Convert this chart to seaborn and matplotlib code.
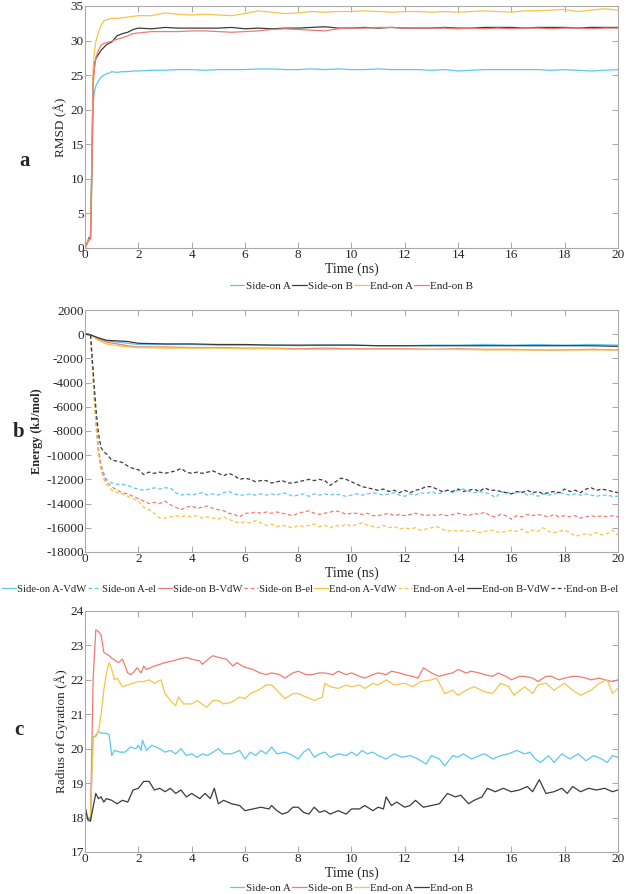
import matplotlib
matplotlib.use("Agg")
import matplotlib.pyplot as plt
import seaborn as sns

# ---- panel a: RMSD (time ns, RMSD A) ----
rmsd_side_a = [(0, 0), (0.1, 1.0), (0.15, 1.3), (0.2, 1.3), (0.25, 9), (0.3, 21), (0.35, 22.6), (0.4, 23.4),
               (0.5, 24.2), (0.6, 24.7), (0.7, 25.0), (0.8, 25.2), (0.9, 25.3), (1.0, 25.5), (1.2, 25.4),
               (1.4, 25.5), (1.6, 25.5), (1.8, 25.6), (2.0, 25.6), (2.5, 25.7), (3.0, 25.7), (3.5, 25.8),
               (4.0, 25.8), (4.5, 25.7), (5.0, 25.8), (5.5, 25.8), (6.0, 25.8), (6.5, 25.9), (7.0, 25.9),
               (7.5, 25.8), (8.0, 25.8), (8.5, 25.9), (9.0, 25.8), (9.5, 25.9), (10.0, 25.8), (10.5, 25.8),
               (11.0, 25.9), (11.5, 25.8), (12.0, 25.8), (12.5, 25.8), (13.0, 25.7), (13.5, 25.8), (14.0, 25.6),
               (14.5, 25.7), (15.0, 25.8), (15.5, 25.8), (16.0, 25.8), (16.5, 25.8), (17.0, 25.8), (17.5, 25.7),
               (18.0, 25.8), (18.5, 25.7), (19.0, 25.6), (19.5, 25.7), (20.0, 25.8)]
rmsd_side_b = [(0, 0), (0.1, 1.0), (0.15, 1.5), (0.2, 1.5), (0.25, 12), (0.3, 24.5), (0.35, 26.5), (0.4, 27.4),
               (0.5, 28.0), (0.6, 28.6), (0.7, 29.0), (0.8, 29.4), (0.9, 29.6), (1.0, 29.8), (1.2, 30.7),
               (1.4, 31.0), (1.6, 31.2), (1.8, 31.6), (2.0, 31.8), (2.5, 31.7), (3.0, 31.9), (3.5, 31.8),
               (4.0, 31.8), (4.5, 31.8), (5.0, 31.8), (5.5, 31.9), (6.0, 31.7), (6.5, 31.8), (7.0, 31.7),
               (7.5, 31.8), (8.0, 31.8), (8.5, 31.9), (9.0, 32.0), (9.5, 31.8), (10.0, 31.8), (10.5, 31.9),
               (11.0, 31.8), (11.5, 31.9), (12.0, 31.8), (12.5, 31.8), (13.0, 31.8), (13.5, 31.9), (14.0, 31.8),
               (14.5, 31.8), (15.0, 31.9), (15.5, 31.9), (16.0, 31.9), (16.5, 31.8), (17.0, 31.9), (17.5, 31.9),
               (18.0, 31.9), (18.5, 31.8), (19.0, 31.9), (19.5, 31.9), (20.0, 31.9)]
rmsd_end_a = [(0, 0), (0.1, 1.0), (0.15, 1.3), (0.2, 1.3), (0.25, 12), (0.3, 26), (0.35, 28.5), (0.4, 29.8),
              (0.5, 31.2), (0.6, 32.2), (0.7, 32.8), (0.8, 33.0), (0.9, 33.1), (1.0, 33.2), (1.2, 33.2),
              (1.4, 33.3), (1.6, 33.4), (1.8, 33.5), (2.0, 33.6), (2.5, 33.6), (3.0, 34.0), (3.5, 33.8),
              (4.0, 33.7), (4.5, 33.8), (5.0, 33.7), (5.5, 33.6), (6.0, 33.9), (6.5, 34.3), (7.0, 34.1),
              (7.5, 33.9), (8.0, 34.0), (8.5, 34.2), (9.0, 34.1), (9.5, 34.2), (10.0, 34.2), (10.5, 34.3),
              (11.0, 34.2), (11.5, 34.1), (12.0, 34.2), (12.5, 34.2), (13.0, 34.1), (13.5, 34.2), (14.0, 34.1),
              (14.5, 34.2), (15.0, 34.3), (15.5, 34.2), (16.0, 34.1), (16.5, 34.3), (17.0, 34.3), (17.5, 34.4),
              (18.0, 34.5), (18.5, 34.2), (19.0, 34.4), (19.5, 34.6), (20.0, 34.4)]
rmsd_end_b = [(0, 0), (0.1, 0.8), (0.15, 1.2), (0.2, 1.2), (0.25, 10), (0.3, 23.5), (0.35, 26.0), (0.4, 27.5),
              (0.5, 28.6), (0.6, 29.3), (0.7, 29.6), (0.8, 29.7), (0.9, 29.8), (1.0, 29.9), (1.2, 30.2),
              (1.4, 30.4), (1.6, 30.7), (1.8, 31.0), (2.0, 31.1), (2.5, 31.3), (3.0, 31.3), (3.5, 31.3),
              (4.0, 31.4), (4.5, 31.4), (5.0, 31.3), (5.5, 31.2), (6.0, 31.3), (6.5, 31.4), (7.0, 31.6),
              (7.5, 31.7), (8.0, 31.6), (8.5, 31.5), (9.0, 31.4), (9.5, 31.7), (10.0, 31.8), (10.5, 31.8),
              (11.0, 31.9), (11.5, 31.9), (12.0, 31.8), (12.5, 31.8), (13.0, 31.8), (13.5, 31.8), (14.0, 31.7),
              (14.5, 31.8), (15.0, 31.7), (15.5, 31.8), (16.0, 31.7), (16.5, 31.8), (17.0, 31.8), (17.5, 31.7),
              (18.0, 31.8), (18.5, 31.8), (19.0, 31.7), (19.5, 31.8), (20.0, 31.8)]

# ---- panel b: interaction energy (kJ/mol) ----
e_side_a_vdw = [(0, 0), (0.2, -50), (0.5, -350), (0.8, -550), (1.2, -650), (1.6, -750), (2.0, -850), (3, -850),
                (4, -850), (5, -900), (6, -900), (7, -900), (8, -950), (9, -900), (10, -900), (11, -950),
                (12, -950), (13, -900), (14, -900), (15, -850), (16, -900), (17, -850), (18, -900), (19, -850),
                (20, -900)]
e_side_b_vdw = [(0, 0), (0.2, -50), (0.5, -400), (0.8, -650), (1.2, -800), (1.6, -950), (2.0, -1050), (3, -1050),
                (4, -1100), (5, -1100), (6, -1150), (7, -1150), (8, -1200), (9, -1150), (10, -1200), (11, -1200),
                (12, -1200), (13, -1250), (14, -1200), (15, -1250), (16, -1250), (17, -1300), (18, -1300),
                (19, -1250), (20, -1300)]
e_end_a_vdw = [(0, 0), (0.2, -50), (0.5, -500), (0.8, -800), (1.2, -950), (1.6, -1050), (2.0, -1100), (3, -1150),
               (4, -1150), (5, -1150), (6, -1200), (7, -1200), (8, -1250), (9, -1250), (10, -1250), (11, -1250),
               (12, -1250), (13, -1250), (14, -1250), (15, -1300), (16, -1300), (17, -1300), (18, -1300),
               (19, -1300), (20, -1300)]
e_end_b_vdw = [(0, 0), (0.2, -50), (0.5, -300), (0.8, -500), (1.2, -550), (1.6, -600), (2.0, -750), (3, -800),
               (4, -800), (5, -850), (6, -850), (7, -900), (8, -900), (9, -900), (10, -900), (11, -950),
               (12, -950), (13, -950), (14, -950), (15, -950), (16, -950), (17, -950), (18, -950), (19, -950),
               (20, -1000)]

e_side_a_el = [(0, 0), (0.2, 0), (0.3, -3500), (0.4, -7000), (0.5, -9500), (0.6, -10800), (0.7, -11500),
               (0.8, -12000), (1.0, -12300), (1.2, -12400), (1.4, -12400), (1.6, -12500), (1.8, -12700),
               (2.0, -12800), (2.2, -12900), (2.4, -12800), (2.6, -12700), (2.8, -12800), (3.0, -12700),
               (3.2, -12700), (3.4, -13100), (3.6, -13300), (3.8, -13200), (4.0, -13300), (4.2, -13200),
               (4.4, -13100), (4.6, -13300), (4.8, -13200), (5.0, -13300), (5.2, -13100), (5.4, -13000),
               (5.6, -13200), (5.8, -13300), (6.0, -13300), (6.2, -13200), (6.4, -13300), (6.6, -13200),
               (6.8, -13300), (7.0, -13200), (7.2, -13300), (7.4, -13100), (7.6, -13200), (7.8, -13400),
               (8.0, -13300), (8.2, -13200), (8.4, -13400), (8.6, -13200), (8.8, -13300), (9.0, -13200),
               (9.2, -13300), (9.4, -13200), (9.6, -13300), (9.8, -13400), (10.0, -13300), (10.2, -13200),
               (10.4, -13300), (10.6, -13200), (10.8, -13100), (11.0, -13200), (11.2, -13300), (11.4, -13200),
               (11.6, -13100), (11.8, -13300), (12.0, -13400), (12.2, -13200), (12.4, -13300), (12.6, -13100),
               (12.8, -13200), (13.0, -13000), (13.2, -13200), (13.4, -13100), (13.6, -12900), (13.8, -13100),
               (14.0, -12900), (14.2, -12800), (14.4, -13000), (14.6, -13100), (14.8, -13000), (15.0, -13100),
               (15.2, -13200), (15.4, -13500), (15.6, -13100), (15.8, -13000), (16.0, -13200), (16.2, -13100),
               (16.4, -13000), (16.6, -13300), (16.8, -13200), (17.0, -13400), (17.2, -13200), (17.4, -13300),
               (17.6, -13200), (17.8, -13100), (18.0, -13200), (18.2, -13300), (18.4, -13200), (18.6, -13300),
               (18.8, -13200), (19.0, -13300), (19.2, -13400), (19.4, -13300), (19.6, -13300), (19.8, -13400),
               (20.0, -13400)]
e_side_b_el = [(0, 0), (0.2, 0), (0.3, -3500), (0.4, -7000), (0.5, -9600), (0.6, -11000), (0.7, -11700),
               (0.8, -12200), (1.0, -12600), (1.2, -12900), (1.4, -13100), (1.6, -13200), (1.8, -13400),
               (2.0, -13600), (2.2, -13800), (2.4, -14000), (2.6, -13900), (2.8, -14000), (3.0, -13800),
               (3.2, -14100), (3.4, -14300), (3.6, -14500), (3.8, -14300), (4.0, -14200), (4.2, -14400),
               (4.4, -14300), (4.6, -14200), (4.8, -14400), (5.0, -14500), (5.2, -14600), (5.4, -14800),
               (5.6, -14900), (5.8, -15100), (6.0, -14800), (6.2, -14800), (6.4, -14700), (6.6, -14800),
               (6.8, -14700), (7.0, -14800), (7.2, -14700), (7.4, -14800), (7.6, -14900), (7.8, -15000),
               (8.0, -14800), (8.2, -14700), (8.4, -14600), (8.6, -14800), (8.8, -14900), (9.0, -14800),
               (9.2, -14700), (9.4, -14600), (9.6, -14700), (9.8, -14900), (10.0, -14800), (10.2, -14800),
               (10.4, -14900), (10.6, -14800), (10.8, -15000), (11.0, -15000), (11.2, -14900), (11.4, -14800),
               (11.6, -15000), (11.8, -14900), (12.0, -15000), (12.2, -14900), (12.4, -14800), (12.6, -14900),
               (12.8, -15000), (13.0, -14900), (13.2, -15000), (13.4, -14900), (13.6, -15000), (13.8, -14900),
               (14.0, -14800), (14.2, -14900), (14.4, -15000), (14.6, -14800), (14.8, -14900), (15.0, -14700),
               (15.2, -15000), (15.4, -15100), (15.6, -14900), (15.8, -15000), (16.0, -15300), (16.2, -15000),
               (16.4, -15100), (16.6, -14900), (16.8, -15000), (17.0, -14900), (17.2, -15000), (17.4, -15100),
               (17.6, -14900), (17.8, -15100), (18.0, -15000), (18.2, -15100), (18.4, -15000), (18.6, -15200),
               (18.8, -15100), (19.0, -15000), (19.2, -15100), (19.4, -15000), (19.6, -15100), (19.8, -15000),
               (20.0, -15100)]
e_end_a_el = [(0, 0), (0.2, 0), (0.3, -3800), (0.4, -7500), (0.5, -10000), (0.6, -11300), (0.7, -12000),
              (0.8, -12400), (1.0, -12900), (1.2, -13100), (1.4, -13200), (1.6, -13400), (1.8, -13600),
              (2.0, -13800), (2.2, -14300), (2.4, -14500), (2.6, -14800), (2.8, -15200), (3.0, -15200),
              (3.2, -15100), (3.4, -15000), (3.6, -15100), (3.8, -15000), (4.0, -15100), (4.2, -15000),
              (4.4, -15200), (4.6, -15100), (4.8, -15200), (5.0, -15300), (5.2, -15100), (5.4, -15300),
              (5.6, -15500), (5.8, -15600), (6.0, -15500), (6.2, -15600), (6.4, -15400), (6.6, -15600),
              (6.8, -15800), (7.0, -15700), (7.2, -15900), (7.4, -15800), (7.6, -15900), (7.8, -16000),
              (8.0, -15800), (8.2, -15900), (8.4, -15800), (8.6, -15700), (8.8, -15900), (9.0, -15800),
              (9.2, -16000), (9.4, -15800), (9.6, -15900), (9.8, -15700), (10.0, -15900), (10.2, -15700),
              (10.4, -15600), (10.6, -15800), (10.8, -15900), (11.0, -16000), (11.2, -15800), (11.4, -16000),
              (11.6, -15900), (11.8, -16100), (12.0, -16000), (12.2, -16100), (12.4, -16000), (12.6, -16200),
              (12.8, -16100), (13.0, -16000), (13.2, -15900), (13.4, -16100), (13.6, -16300), (13.8, -16200),
              (14.0, -16300), (14.2, -16200), (14.4, -16300), (14.6, -16200), (14.8, -16400), (15.0, -16300),
              (15.2, -16200), (15.4, -16300), (15.6, -16400), (15.8, -16300), (16.0, -16200), (16.2, -16300),
              (16.4, -16100), (16.6, -16400), (16.8, -16200), (17.0, -16300), (17.2, -16000), (17.4, -16300),
              (17.6, -16400), (17.8, -16300), (18.0, -16200), (18.2, -16400), (18.4, -16700), (18.6, -16600),
              (18.8, -16500), (19.0, -16600), (19.2, -16400), (19.4, -16600), (19.6, -16500), (19.8, -16200),
              (20.0, -16600)]
e_end_b_el = [(0, 0), (0.2, 0), (0.3, -3000), (0.4, -6000), (0.5, -8200), (0.6, -9400), (0.7, -9700),
              (0.8, -9900), (1.0, -10400), (1.2, -10500), (1.4, -10600), (1.6, -10900), (1.8, -11100),
              (2.0, -11200), (2.2, -11600), (2.4, -11400), (2.6, -11500), (2.8, -11400), (3.0, -11500),
              (3.2, -11400), (3.4, -11300), (3.6, -11100), (3.8, -11400), (4.0, -11500), (4.2, -11400),
              (4.4, -11500), (4.6, -11400), (4.8, -11300), (5.0, -11500), (5.2, -11700), (5.4, -11500),
              (5.6, -11700), (5.8, -12000), (6.0, -11900), (6.2, -12000), (6.4, -12200), (6.6, -12100),
              (6.8, -12100), (7.0, -12300), (7.2, -12200), (7.4, -12100), (7.6, -12300), (7.8, -12300),
              (8.0, -12200), (8.2, -12100), (8.4, -12000), (8.6, -12100), (8.8, -12000), (9.0, -12100),
              (9.2, -12500), (9.4, -12200), (9.6, -11900), (9.8, -12000), (10.0, -12200), (10.2, -12400),
              (10.4, -12600), (10.6, -12700), (10.8, -12800), (11.0, -12900), (11.2, -12800), (11.4, -13000),
              (11.6, -12900), (11.8, -13100), (12.0, -12900), (12.2, -13100), (12.4, -12900), (12.6, -12800),
              (12.8, -12600), (13.0, -12600), (13.2, -12800), (13.4, -13000), (13.6, -12900), (13.8, -13000),
              (14.0, -12800), (14.2, -13000), (14.4, -12900), (14.6, -12800), (14.8, -13000), (15.0, -12700),
              (15.2, -12900), (15.4, -12900), (15.6, -13000), (15.8, -13100), (16.0, -13200), (16.2, -13000),
              (16.4, -13100), (16.6, -12900), (16.8, -13100), (17.0, -13000), (17.2, -13200), (17.4, -13100),
              (17.6, -13000), (17.8, -13100), (18.0, -12800), (18.2, -13000), (18.4, -12900), (18.6, -13100),
              (18.8, -12800), (19.0, -12700), (19.2, -12900), (19.4, -12800), (19.6, -12900), (19.8, -13000),
              (20.0, -13100)]

# ---- panel c: radius of gyration (A) ----
rg_side_a = [(0, 18.3), (0.1, 17.9), (0.2, 17.9), (0.3, 20.35), (0.4, 20.35), (0.5, 20.5), (0.6, 20.45),
             (0.8, 20.45), (0.9, 20.4), (1.0, 19.8), (1.1, 19.95), (1.3, 19.9), (1.5, 19.9), (1.7, 20.05),
             (1.9, 20.0), (2.0, 20.1), (2.1, 19.95), (2.15, 20.25), (2.3, 19.95), (2.5, 20.1), (2.8, 20.0),
             (3.0, 19.9), (3.2, 19.95), (3.4, 19.85), (3.6, 20.0), (3.8, 19.8), (4.0, 19.85), (4.2, 19.75),
             (4.4, 19.85), (4.6, 19.8), (4.8, 19.9), (5.0, 20.0), (5.2, 19.85), (5.5, 19.85), (5.8, 19.95),
             (6.0, 19.7), (6.2, 19.9), (6.4, 19.8), (6.6, 19.95), (6.8, 19.85), (7.0, 20.05), (7.2, 19.85),
             (7.5, 19.9), (7.8, 19.8), (8.0, 19.7), (8.2, 19.9), (8.4, 20.0), (8.6, 19.75), (8.8, 19.85),
             (9.0, 19.9), (9.2, 19.75), (9.5, 19.85), (9.8, 19.8), (10.0, 19.9), (10.2, 19.8), (10.4, 19.95),
             (10.6, 19.85), (10.8, 19.9), (11.0, 19.8), (11.3, 19.7), (11.6, 19.85), (11.9, 19.75), (12.2, 19.8),
             (12.5, 19.7), (12.8, 19.55), (13.0, 19.8), (13.3, 19.7), (13.5, 19.5), (13.8, 19.8), (14.0, 19.75),
             (14.2, 19.85), (14.5, 19.7), (14.8, 19.8), (15.0, 19.85), (15.3, 19.7), (15.6, 19.8), (15.9, 19.85),
             (16.2, 19.95), (16.5, 19.85), (16.7, 19.9), (16.9, 19.7), (17.1, 19.6), (17.4, 19.8), (17.6, 19.6),
             (17.9, 19.85), (18.2, 19.7), (18.5, 19.85), (18.8, 19.65), (19.1, 19.8), (19.4, 19.7), (19.6, 19.6),
             (19.8, 19.8), (20.0, 19.75)]
rg_side_b = [(0, 18.2), (0.1, 18.0), (0.2, 18.0), (0.3, 22.0), (0.4, 23.45), (0.5, 23.4), (0.6, 23.3),
             (0.7, 22.8), (0.8, 22.75), (0.9, 22.7), (1.05, 22.6), (1.25, 22.5), (1.4, 22.6), (1.5, 22.4),
             (1.6, 22.2), (1.7, 22.15), (1.8, 22.2), (1.95, 22.35), (2.1, 22.2), (2.2, 22.4), (2.3, 22.3),
             (2.6, 22.4), (2.8, 22.45), (3.0, 22.5), (3.3, 22.55), (3.5, 22.6), (3.8, 22.65), (4.0, 22.6),
             (4.3, 22.55), (4.4, 22.45), (4.7, 22.65), (4.8, 22.7), (5.0, 22.65), (5.3, 22.6), (5.55, 22.4),
             (5.7, 22.5), (5.9, 22.4), (6.06, 22.35), (6.3, 22.3), (6.56, 22.2), (6.8, 22.15), (7.0, 22.2),
             (7.3, 22.15), (7.5, 22.05), (7.8, 22.2), (8.0, 22.25), (8.3, 22.15), (8.5, 22.15), (8.8, 22.2),
             (9.0, 22.2), (9.3, 22.15), (9.5, 22.25), (9.8, 22.15), (10.0, 22.2), (10.3, 22.1), (10.5, 22.05),
             (10.8, 22.15), (11.0, 22.2), (11.3, 22.15), (11.5, 22.25), (11.8, 22.2), (12.0, 22.15), (12.3, 22.1),
             (12.5, 22.05), (12.7, 22.35), (13.0, 22.2), (13.3, 22.1), (13.5, 22.15), (13.8, 22.2), (14.0, 22.3),
             (14.3, 22.2), (14.5, 22.25), (14.8, 22.2), (15.0, 22.15), (15.3, 22.1), (15.5, 22.2), (15.8, 22.1),
             (16.0, 22.0), (16.3, 22.1), (16.5, 22.1), (16.8, 22.05), (17.0, 21.95), (17.3, 22.1), (17.5, 22.1),
             (17.8, 22.0), (18.0, 22.05), (18.3, 22.1), (18.5, 22.1), (18.8, 22.05), (19.0, 22.0), (19.3, 22.05),
             (19.5, 22.0), (19.8, 21.95), (20.0, 22.0)]
rg_end_a = [(0, 18.2), (0.1, 18.0), (0.2, 18.0), (0.3, 20.3), (0.5, 20.5), (0.6, 21.0), (0.7, 21.7),
            (0.8, 22.2), (0.9, 22.5), (1.0, 22.3), (1.1, 22.0), (1.2, 22.05), (1.4, 21.8), (1.6, 21.85),
            (1.8, 21.9), (2.0, 21.95), (2.2, 21.95), (2.4, 22.0), (2.6, 21.9), (2.85, 22.0), (3.0, 21.6),
            (3.2, 21.4), (3.4, 21.25), (3.5, 21.5), (3.7, 21.3), (4.0, 21.3), (4.2, 21.4), (4.56, 21.2),
            (4.8, 21.4), (5.0, 21.4), (5.2, 21.3), (5.5, 21.35), (5.8, 21.5), (6.0, 21.45), (6.2, 21.6),
            (6.5, 21.7), (6.8, 21.85), (7.0, 21.85), (7.2, 21.7), (7.5, 21.45), (7.8, 21.6), (8.0, 21.6),
            (8.3, 21.5), (8.6, 21.4), (8.9, 21.5), (9.0, 21.9), (9.2, 21.8), (9.5, 21.75), (9.8, 21.85),
            (10.0, 21.8), (10.3, 21.85), (10.5, 21.75), (10.8, 21.9), (11.0, 21.85), (11.3, 22.0), (11.6, 21.85),
            (12.0, 21.9), (12.3, 21.8), (12.6, 21.95), (13.0, 22.0), (13.2, 22.05), (13.5, 21.6), (13.8, 21.7),
            (14.0, 21.55), (14.3, 21.7), (14.6, 21.8), (15.0, 21.65), (15.3, 21.6), (15.6, 21.9), (15.9, 21.8),
            (16.1, 21.55), (16.5, 21.8), (16.8, 21.6), (17.0, 21.85), (17.3, 21.9), (17.6, 21.7), (18.0, 21.9),
            (18.3, 21.7), (18.6, 21.55), (19.0, 21.7), (19.3, 21.9), (19.6, 22.0), (19.8, 21.6), (20.0, 21.75)]
rg_end_b = [(0, 18.3), (0.1, 17.95), (0.2, 17.9), (0.3, 18.3), (0.4, 18.7), (0.5, 18.55), (0.6, 18.6),
            (0.7, 18.45), (0.8, 18.55), (1.0, 18.5), (1.2, 18.4), (1.4, 18.5), (1.6, 18.45), (1.8, 18.8),
            (2.0, 18.85), (2.2, 19.05), (2.4, 19.05), (2.6, 18.8), (2.8, 18.85), (3.0, 18.75), (3.2, 18.85),
            (3.4, 18.7), (3.6, 18.8), (3.8, 18.6), (4.0, 18.7), (4.3, 18.55), (4.5, 18.7), (4.7, 18.55),
            (4.85, 18.85), (5.0, 18.4), (5.2, 18.5), (5.5, 18.4), (5.8, 18.35), (6.0, 18.2), (6.3, 18.25),
            (6.6, 18.3), (6.9, 18.25), (7.0, 18.35), (7.2, 18.2), (7.4, 18.1), (7.6, 18.15), (7.8, 18.3),
            (8.0, 18.3), (8.2, 18.15), (8.4, 18.1), (8.6, 18.3), (8.8, 18.15), (9.0, 18.2), (9.2, 18.1),
            (9.5, 18.2), (9.8, 18.1), (10.0, 18.25), (10.3, 18.25), (10.5, 18.35), (10.8, 18.2), (11.0, 18.3),
            (11.2, 18.25), (11.3, 18.6), (11.5, 18.35), (11.7, 18.45), (12.0, 18.3), (12.2, 18.35), (12.4, 18.5),
            (12.7, 18.3), (13.0, 18.35), (13.3, 18.4), (13.6, 18.7), (13.9, 18.6), (14.1, 18.65), (14.4, 18.4),
            (14.6, 18.5), (14.9, 18.6), (15.1, 18.85), (15.4, 18.75), (15.7, 18.85), (16.0, 18.75), (16.3, 18.8),
            (16.6, 18.9), (16.8, 18.75), (17.05, 19.1), (17.3, 18.7), (17.6, 18.75), (17.9, 18.85), (18.1, 18.7),
            (18.3, 18.9), (18.6, 18.75), (18.9, 18.85), (19.2, 18.8), (19.5, 18.85), (19.8, 18.75), (20.0, 18.8)]

CYAN = "#5cc8f2"
RED = "#f07b72"
YEL = "#f5c549"
DARK = "#3b3b3b"
DASH = (0, (3, 2))

sns.set_style("ticks")
plt.rcParams["font.family"] = ["Liberation Serif", "DejaVu Serif"]
plt.rcParams["axes.unicode_minus"] = False


def draw(ax, series):
    for pts, name, color, ls in series:
        t, v = zip(*pts)
        sns.lineplot(x=list(t), y=list(v), ax=ax, color=color, linewidth=0.9,
                     linestyle=ls, label=name, sort=False)
    handles, labels = ax.get_legend_handles_labels()
    ax.get_legend().remove()
    return handles, labels


def style_axes(ax, ylim, yticks, ylabel, bold_ylabel=False):
    ax.set_xlim(0, 20)
    ax.set_ylim(*ylim)
    ax.set_xticks(range(0, 21, 2))
    ax.set_yticks(yticks)
    ax.tick_params(direction="in", top=True, right=True, length=4, width=0.6,
                   color="#999999", labelsize=9.5, pad=1)
    for s in ax.spines.values():
        s.set_color("#aaaaaa")
        s.set_linewidth(0.8)
    ax.set_xlabel("Time (ns)", fontsize=10, labelpad=1)
    if bold_ylabel:
        ax.set_ylabel(ylabel, fontsize=8.8, fontweight="bold", labelpad=2)
    else:
        ax.set_ylabel(ylabel, fontsize=9.5, labelpad=2)


leg_kw = dict(frameon=False, handlelength=1.3, handletextpad=0.1, columnspacing=0.15)

fig = plt.figure(figsize=(6.26, 8.94), dpi=100)

# panel a
ax_a = fig.add_axes([0.136, 0.7226, 0.851, 0.2707])
h, l = draw(ax_a, [(rmsd_side_a, "Side-on A", CYAN, "-"),
                   (rmsd_side_b, "Side-on B", DARK, "-"),
                   (rmsd_end_a, "End-on A", YEL, "-"),
                   (rmsd_end_b, "End-on B", RED, "-")])
style_axes(ax_a, (0, 35), range(0, 36, 5), "RMSD (Å)")
ax_a.legend(h, l, loc="center", bbox_to_anchor=(0.5, -0.158), ncol=4, fontsize=8, **leg_kw)
fig.text(0.04, 0.82, "a", fontsize=15, fontweight="bold", ha="center", va="center")

# panel b
ax_b = fig.add_axes([0.136, 0.3826, 0.851, 0.2706])
h, l = draw(ax_b, [(e_side_a_vdw, "Side-on A-VdW", CYAN, "-"),
                   (e_side_a_el, "Side-on A-el", CYAN, DASH),
                   (e_side_b_vdw, "Side-on B-VdW", RED, "-"),
                   (e_side_b_el, "Side-on B-el", RED, DASH),
                   (e_end_a_vdw, "End-on A-VdW", YEL, "-"),
                   (e_end_a_el, "End-on A-el", YEL, DASH),
                   (e_end_b_vdw, "End-on B-VdW", DARK, "-"),
                   (e_end_b_el, "End-on B-el", DARK, DASH)])
style_axes(ax_b, (-18000, 2000), range(-18000, 2001, 2000), "Energy (kJ/mol)", bold_ylabel=True)
fig.legend(h, l, loc="center", bbox_to_anchor=(0.495, 0.341), ncol=8, fontsize=7.65, **leg_kw)
fig.text(0.03, 0.517, "b", fontsize=15, fontweight="bold", ha="center", va="center")

# panel c
ax_c = fig.add_axes([0.136, 0.047, 0.851, 0.2696])
h, l = draw(ax_c, [(rg_side_a, "Side-on A", CYAN, "-"),
                   (rg_side_b, "Side-on B", RED, "-"),
                   (rg_end_a, "End-on A", YEL, "-"),
                   (rg_end_b, "End-on B", DARK, "-")])
style_axes(ax_c, (17, 24), range(17, 25), "Radius of Gyration (Å)")
ax_c.legend(h, l, loc="center", bbox_to_anchor=(0.5, -0.15), ncol=4, fontsize=8, **leg_kw)
fig.text(0.03, 0.183, "c", fontsize=15, fontweight="bold", ha="center", va="center")

fig.savefig("out.png", dpi=100)
